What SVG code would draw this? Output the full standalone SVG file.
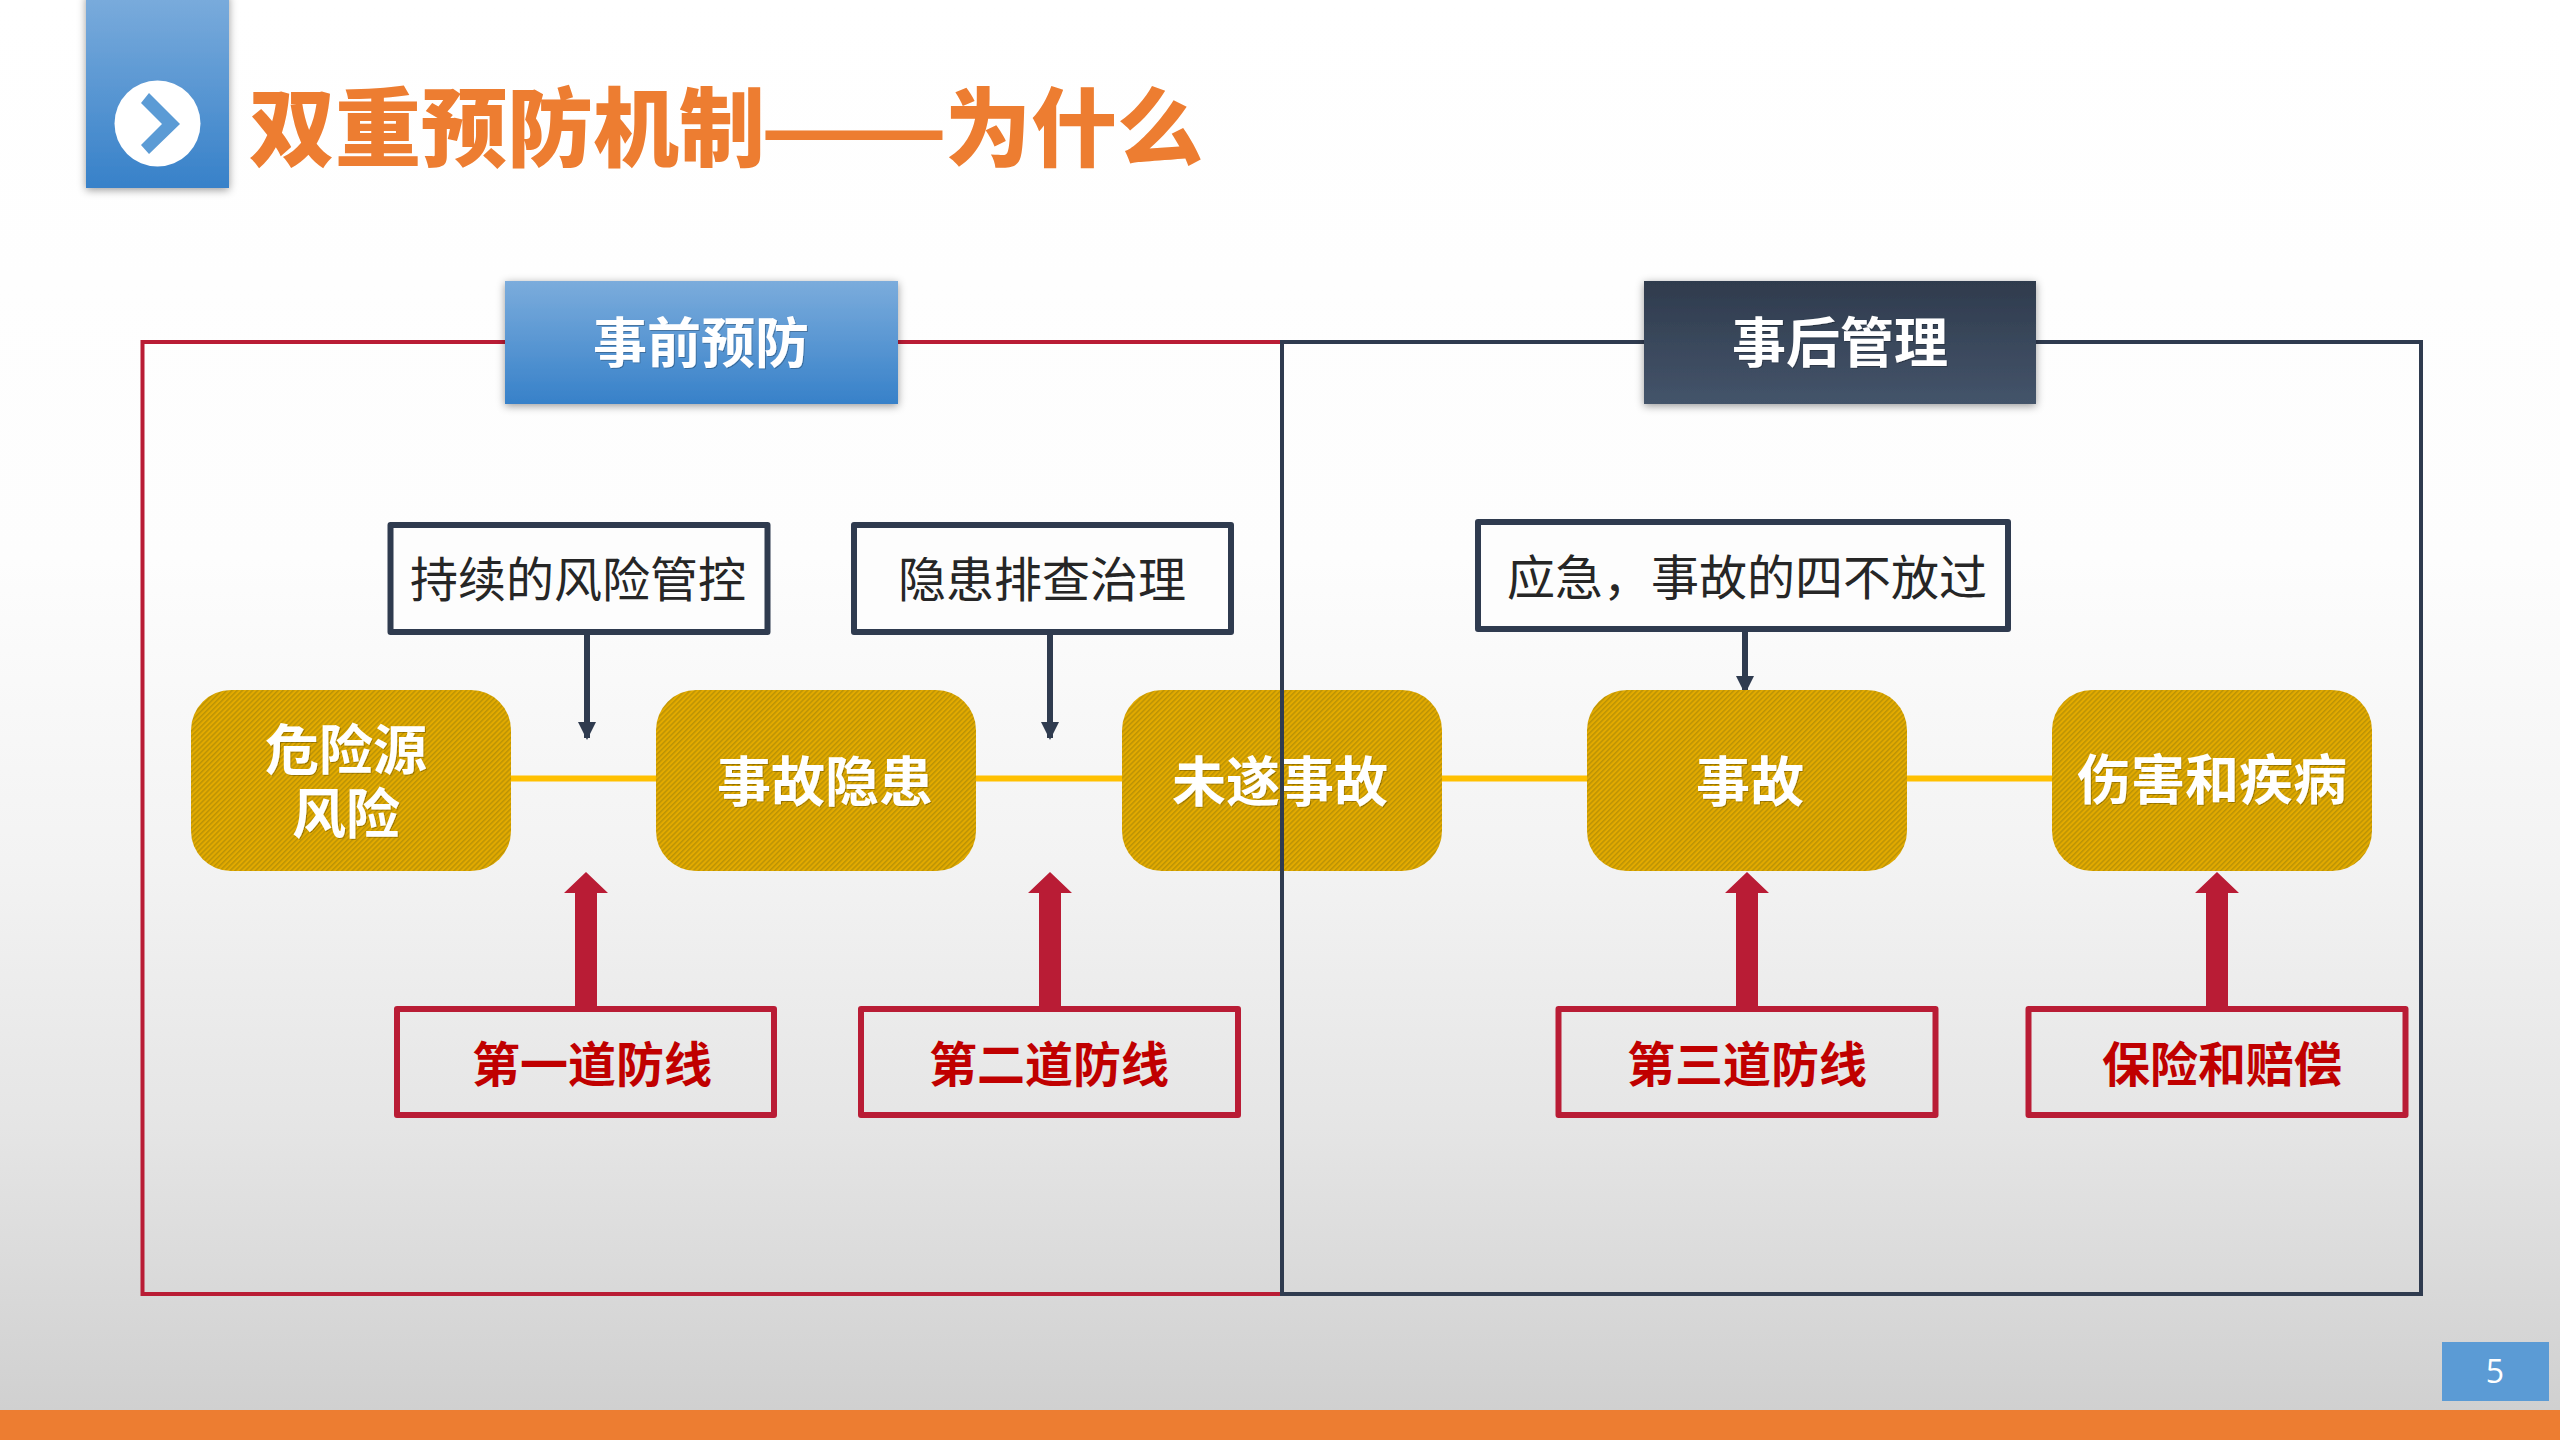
<svg xmlns="http://www.w3.org/2000/svg" width="2560" height="1440" viewBox="0 0 2560 1440">
<style>
text{font-family:"Noto Sans CJK SC","Liberation Sans",sans-serif;text-anchor:middle}
.nt{fill:#fff;font-weight:700;font-size:54px;filter:url(#ts)}
.hd{fill:#fff;font-weight:700;font-size:54px;filter:url(#ts)}
.bt{fill:#262626;font-size:48px}
.rt{fill:#c00000;font-weight:700;font-size:48px}
.tb{fill:#fdfdfd;stroke:#2f3b4f;stroke-width:6;stroke-linejoin:round}
.rb{fill:none;stroke:#b91c35;stroke-width:6;stroke-linejoin:round}
.node{fill:url(#hatch)}
.yl{stroke:#ffc000;stroke-width:6}
.da{stroke:#2f3b4f;stroke-width:6;marker-end:url(#dh)}
.ra{fill:#b91c35}
</style>
<defs>
<linearGradient id="bg" gradientUnits="userSpaceOnUse" x1="0" y1="0" x2="0" y2="1410"><stop offset="0" stop-color="#fff"/><stop offset="0.397" stop-color="#fdfdfd"/><stop offset="0.61" stop-color="#f3f3f3"/><stop offset="0.8" stop-color="#e5e5e5"/><stop offset="1" stop-color="#d0d0d0"/></linearGradient>
<linearGradient id="bl" x1="0" y1="0" x2="0" y2="1"><stop offset="0" stop-color="#7bacdc"/><stop offset="1" stop-color="#3781c9"/></linearGradient>
<linearGradient id="dk" x1="0" y1="0" x2="0" y2="1"><stop offset="0" stop-color="#2f3b4d"/><stop offset="1" stop-color="#44546a"/></linearGradient>
<pattern id="hatch" width="3.6" height="3.6" patternUnits="userSpaceOnUse" patternTransform="rotate(-45)"><rect width="3.6" height="3.6" fill="#e2aa00"/><rect width="3.6" height="1.5" fill="#bb9305"/></pattern>
<filter id="sh" x="-10%" y="-10%" width="120%" height="125%"><feDropShadow dx="0" dy="2" stdDeviation="4" flood-color="#000" flood-opacity="0.4"/></filter>
<filter id="ts" x="-5%" y="-5%" width="110%" height="110%"><feDropShadow dx="1" dy="1" stdDeviation="0.6" flood-color="#000" flood-opacity="0.25"/></filter>
<marker id="dh" markerUnits="userSpaceOnUse" markerWidth="18" markerHeight="18" refX="16" refY="9" orient="auto"><path d="M0 0L18 9L0 18Z" fill="#2f3b4f"/></marker>
</defs>
<rect id="background" width="2560" height="1440" fill="url(#bg)"/>
<rect id="footer-bar" y="1410" width="2560" height="30" fill="#ed7d31"/>
<g id="title-icon"><rect x="86" y="-6" width="143" height="194" fill="url(#bl)" filter="url(#sh)"/><circle cx="157.500" cy="123.500" r="43" fill="#fff"/><path d="M149 93L180 124L149 154L141 145L162 124L141 103Z" fill="#5b9bd5"/></g>
<text id="title" y="160" font-size="86" font-weight="900" fill="#ed7d31" style="text-anchor:start"><tspan x="249">双重预防机制</tspan><tspan x="760" textLength="188" lengthAdjust="spacingAndGlyphs">——</tspan><tspan x="945">为什么</tspan></text>
<g id="frames">
<path d="M1282 342H142.500V1294H1282" fill="none" stroke="#b91c35" stroke-width="4"/>
<rect x="1282" y="342" width="1139" height="952" fill="none" stroke="#2f3b4f" stroke-width="4"/>
</g>
<g id="connectors">
<line class="yl" x1="510" y1="778.500" x2="656" y2="778.500"/>
<line class="yl" x1="976" y1="778.500" x2="1122" y2="778.500"/>
<line class="yl" x1="1441" y1="778.500" x2="1587" y2="778.500"/>
<line class="yl" x1="1906" y1="778.500" x2="2052" y2="778.500"/>
<line class="da" x1="587" y1="635" x2="587" y2="738"/>
<line class="da" x1="1050" y1="635" x2="1050" y2="738"/>
<line class="da" x1="1745" y1="630" x2="1745" y2="692"/>
<path class="ra" d="M575 1007V893H564L586 872L608 893H597V1007Z"/>
<path class="ra" d="M1039 1007V893H1028L1050 872L1072 893H1061V1007Z"/>
<path class="ra" d="M1736 1007V893H1725L1747 872L1769 893H1758V1007Z"/>
<path class="ra" d="M2206 1007V893H2195L2217 872L2239 893H2228V1007Z"/>
</g>
<g id="header-pre"><rect x="505" y="281" width="393" height="123" fill="url(#bl)" filter="url(#sh)"/><text class="hd" x="701" y="363">事前预防</text></g>
<g id="header-post"><rect x="1644" y="281" width="392" height="123" fill="url(#dk)" filter="url(#sh)"/><text class="hd" x="1840" y="363">事后管理</text></g>
<g id="node-hazard"><rect class="node" x="191" y="690" width="320" height="181" rx="40"/><text class="nt"><tspan x="346" y="770">危险源</tspan><tspan x="346" y="834">风险</tspan></text></g>
<g id="node-hidden"><rect class="node" x="656" y="690" width="320" height="181" rx="40"/><text class="nt" x="825" y="802">事故隐患</text></g>
<g id="node-near"><rect class="node" x="1122" y="690" width="320" height="181" rx="40"/><text class="nt" x="1280" y="802">未遂事故</text></g>
<line id="frame-divider" x1="1282" y1="660" x2="1282" y2="900" stroke="#2f3b4f" stroke-width="4"/>
<g id="node-accident"><rect class="node" x="1587" y="690" width="320" height="181" rx="40"/><text class="nt" x="1750" y="802">事故</text></g>
<g id="node-injury"><rect class="node" x="2052" y="690" width="320" height="181" rx="40"/><text class="nt" x="2212" y="800">伤害和疾病</text></g>
<g id="box-risk"><rect class="tb" x="390.500" y="525" width="377" height="107"/><text class="bt" x="578" y="597">持续的风险管控</text></g>
<g id="box-hazard"><rect class="tb" x="854" y="525" width="377" height="107"/><text class="bt" x="1042" y="597">隐患排查治理</text></g>
<g id="box-emergency"><rect class="tb" x="1478" y="522" width="530" height="107"/><text class="bt" x="1747" y="595">应急，事故的四不放过</text></g>
<g id="box-line1"><rect class="rb" x="397" y="1009" width="377" height="106"/><text class="rt" x="592" y="1082">第一道防线</text></g>
<g id="box-line2"><rect class="rb" x="861" y="1009" width="377" height="106"/><text class="rt" x="1049" y="1082">第二道防线</text></g>
<g id="box-line3"><rect class="rb" x="1558.500" y="1009" width="377" height="106"/><text class="rt" x="1747" y="1082">第三道防线</text></g>
<g id="box-insurance"><rect class="rb" x="2028.500" y="1009" width="377" height="106"/><text class="rt" x="2222" y="1082">保险和赔偿</text></g>
<g id="page-number"><rect x="2442" y="1342" width="107" height="59" fill="#5b9bd5"/><text x="2495" y="1383" font-size="32" fill="#fff" style="font-family:'Open Sans','Liberation Sans',sans-serif">5</text></g>
</svg>
